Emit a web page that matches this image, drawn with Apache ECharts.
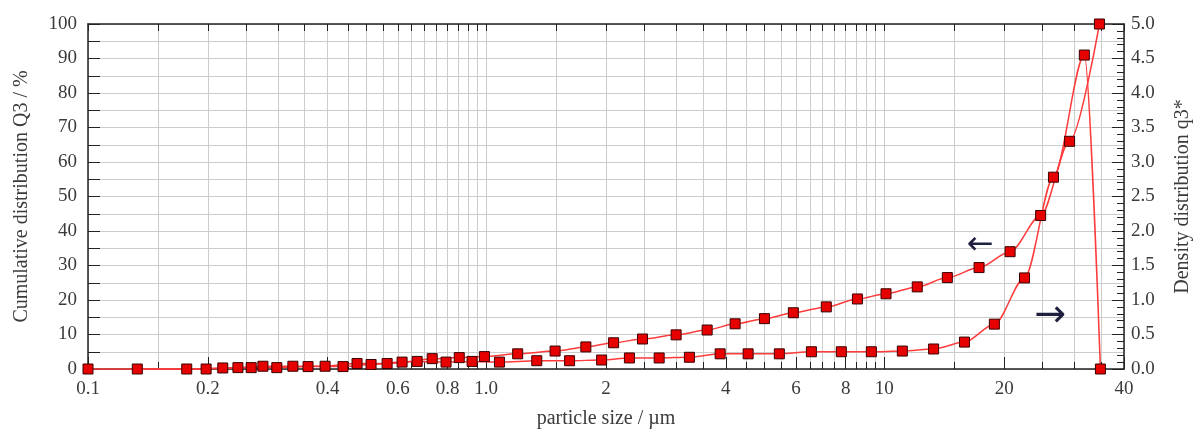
<!DOCTYPE html>
<html>
<head>
<meta charset="utf-8">
<title>Particle size distribution</title>
<script src="https://cdn.jsdelivr.net/npm/echarts@6/dist/echarts.min.js"></script>
<style>
  html, body { margin: 0; padding: 0; background: #fff; }
  #chart { width: 1194px; height: 430px; }
</style>
</head>
<body>
<div id="chart"></div>
<script>
// Cumulative distribution Q3 (left axis), particle size in µm
const cumSize = [0.1, 0.177, 0.218, 0.257, 0.298, 0.357, 0.437, 0.514, 0.615, 0.732, 0.856, 0.99,
    1.2, 1.49, 1.78, 2.09, 2.47, 3.0, 3.59, 4.22, 5.0, 5.91, 7.15, 8.56, 10.1, 12.1, 14.4,
    17.3, 20.7, 24.7, 29.2, 34.7]
const cumValue = [0, 0, 0.3, 0.4, 0.4, 0.7, 0.7, 1.3, 2.0, 3.0, 3.3, 3.6,
    4.4, 5.2, 6.4, 7.6, 8.7, 9.9, 11.3, 13.1, 14.6, 16.3, 18.0, 20.3, 21.8, 23.8, 26.5,
    29.4, 34.0, 44.5, 66.0, 100]

// Density distribution q3* (right axis)
const denSize = [0.133, 0.198, 0.238, 0.275, 0.327, 0.394, 0.474, 0.564, 0.671, 0.793, 0.922,
    1.08, 1.34, 1.62, 1.95, 2.29, 2.72, 3.24, 3.87, 4.55, 5.45, 6.56, 7.8, 9.28, 11.1, 13.3,
    15.9, 18.9, 22.5, 26.6, 31.8, 34.9]
const denValue = [0, 0, 0.02, 0.04, 0.04, 0.04, 0.08, 0.08, 0.11, 0.1, 0.11,
    0.1, 0.12, 0.12, 0.13, 0.16, 0.16, 0.17, 0.22, 0.22, 0.22, 0.25, 0.25, 0.25, 0.26, 0.29,
    0.39, 0.65, 1.32, 2.78, 4.55, 0]

// x tick labels
const xTickValues = [0.1, 0.2, 0.4, 0.6, 0.8, 1, 2, 4, 6, 8, 10, 20, 40]
const xTickText = ['0.1', '0.2', '0.4', '0.6', '0.8', '1.0', '2', '4', '6', '8', '10', '20', '40']

// arrow annotations [size, Q3]
const arrowLeft = [17.4, 35.8]
const arrowRight = [26.1, 15.2]

const log = Math.log10
const xMin = log(0.1)
const xMax = log(40)

// grid lines: 0.1..1 by 0.05, 1..10 by 0.5, 10..40 by 5
const gridValues = []
for (let d = 0.1; d < 40; d *= 10) {
    for (let k = 1; k < 10; k += 0.5) {
        const v = +(d * k).toFixed(4)
        if (v <= 40) gridValues.push(v)
    }
}
gridValues.push(40)

const font = 'Liberation Serif'
const textColor = '#3a3a3a'
const axisColor = '#222'

const chart = echarts.init(document.getElementById('chart'))

const xLabel = (val) => {
    let best = 0
    xTickValues.forEach((t, i) => {
        if (Math.abs(log(t) - val) < Math.abs(log(xTickValues[best]) - val)) best = i
    })
    return xTickText[best]
}

const baseX = { type: 'value', min: xMin, max: xMax }

chart.setOption({
    animation: false,
    backgroundColor: '#fff',
    textStyle: { fontFamily: font },
    grid: { left: 88, right: 70, top: 24, bottom: 61, outerBoundsMode: 'none', containLabel: false },
    xAxis: [
        {
            ...baseX,
            position: 'bottom',
            name: 'particle size / µm',
            nameLocation: 'middle',
            nameGap: 40,
            nameTextStyle: { fontSize: 20, color: textColor, fontFamily: font },
            axisLine: { onZero: false, lineStyle: { color: axisColor, width: 1.5 } },
            axisTick: { inside: true, length: 12, customValues: xTickValues.map(log), lineStyle: { color: axisColor } },
            axisLabel: { customValues: xTickValues.map(log), formatter: xLabel, fontSize: 19, color: textColor, margin: 11 },
            splitLine: { show: false }
        },
        {
            ...baseX,
            position: 'bottom',
            axisLine: { show: false, onZero: false },
            axisTick: { inside: true, length: 7, customValues: gridValues.map(log), lineStyle: { color: axisColor } },
            axisLabel: { show: false },
            splitLine: { show: true, lineStyle: { color: '#cccccc', width: 1 } }
        },
        {
            ...baseX,
            position: 'top',
            axisLine: { show: true, onZero: false, lineStyle: { color: axisColor, width: 1.5 } },
            axisTick: { inside: true, length: 7, customValues: gridValues.map(log), lineStyle: { color: axisColor } },
            axisLabel: { show: false },
            splitLine: { show: false }
        }
    ],
    yAxis: [
        {
            type: 'value',
            min: 0,
            max: 100,
            interval: 5,
            position: 'left',
            name: 'Cumulative distribution Q3 / %',
            nameLocation: 'middle',
            nameGap: 56,
            nameTextStyle: { fontSize: 20, color: textColor, fontFamily: font },
            axisLine: { show: true, onZero: false, lineStyle: { color: axisColor, width: 1.5 } },
            axisTick: { inside: true, length: 12, lineStyle: { color: axisColor } },
            axisLabel: {
                fontSize: 19,
                color: textColor,
                margin: 11,
                formatter: (v) => (v % 10 === 0 ? String(v) : '')
            },
            splitLine: { show: true, lineStyle: { color: '#cccccc', width: 1 } }
        },
        {
            type: 'value',
            min: 0,
            max: 5,
            interval: 0.5,
            position: 'right',
            name: 'Density distribution q3*',
            nameLocation: 'middle',
            nameGap: 49,
            nameTextStyle: { fontSize: 20, color: textColor, fontFamily: font },
            axisLine: { show: true, onZero: false, lineStyle: { color: axisColor, width: 1.5 } },
            axisTick: { inside: true, length: 12, lineStyle: { color: axisColor } },
            minorTick: { show: true, splitNumber: 5, length: 7, lineStyle: { color: axisColor } },
            axisLabel: { fontSize: 19, color: textColor, margin: 7, formatter: (v) => v.toFixed(1) },
            splitLine: { show: false }
        }
    ],
    series: [
        {
            name: 'Q3',
            type: 'line',
            xAxisIndex: 0,
            yAxisIndex: 0,
            clip: false,
            smooth: 0.3,
            smoothMonotone: 'x',
            data: cumSize.map((s, i) => [log(s), cumValue[i]]),
            symbol: 'rect',
            symbolSize: 10,
            itemStyle: { color: '#e60000', borderColor: '#3a0000', borderWidth: 1 },
            lineStyle: { color: '#ff3b3b', width: 1.5 },
            z: 3,
            markPoint: {
                symbol: 'rect',
                symbolSize: 1,
                itemStyle: { color: 'transparent' },
                label: { show: true, position: 'inside', color: '#1f1f40', fontFamily: 'DejaVu Sans' },
                data: [
                    { coord: [log(arrowLeft[0]), arrowLeft[1]], label: { formatter: '←', fontSize: 32 } },
                    { coord: [log(arrowRight[0]), arrowRight[1]], label: { formatter: '→', fontSize: 38 } }
                ]
            }
        },
        {
            name: 'q3*',
            type: 'line',
            xAxisIndex: 0,
            yAxisIndex: 1,
            clip: false,
            smooth: 0.3,
            smoothMonotone: 'x',
            data: denSize.map((s, i) => [log(s), denValue[i]]),
            symbol: 'rect',
            symbolSize: 10,
            itemStyle: { color: '#e60000', borderColor: '#3a0000', borderWidth: 1 },
            lineStyle: { color: '#ff3b3b', width: 1.5 },
            z: 3
        }
    ]
})
</script>
</body>
</html>
